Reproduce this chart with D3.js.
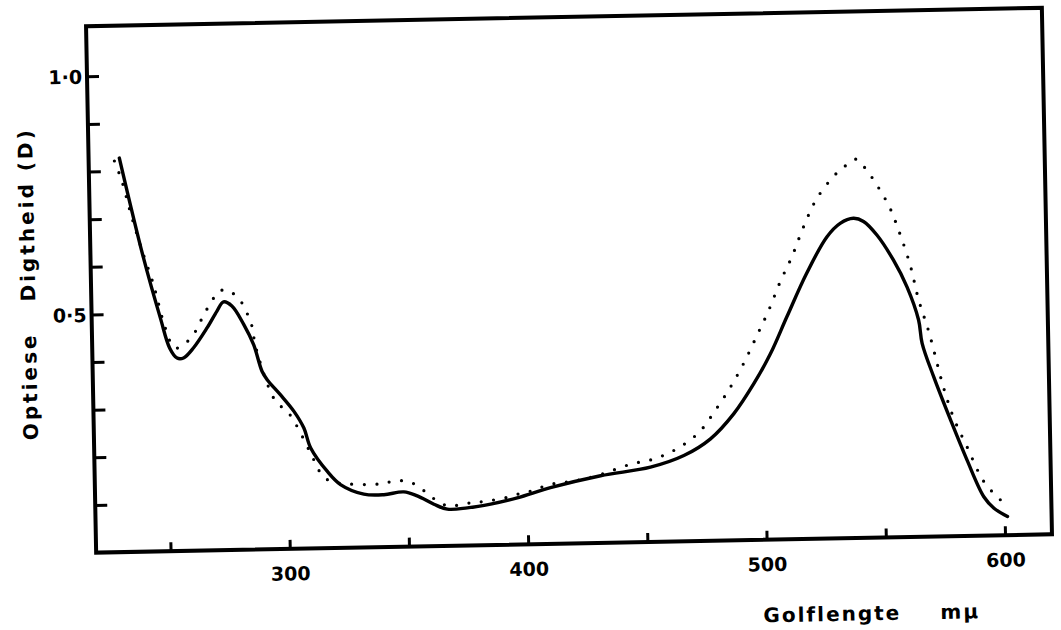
<!DOCTYPE html>
<html>
  <head>
  <title>Optiese Digtheid</title>
  <script src="https://d3js.org/d3.v7.min.js"></script>
  </head>
  <body>
  <svg id="svg" width="1061" height="630"></svg>
  </body>
</html>

<script>
  // wavelength (m\u03bc) and optical density
  const solidWavelength = [231.7, 241.0, 247.6, 251.3, 254.3, 257.0, 261.3, 267.1, 271.4, 274.2,
    277.7, 282.5, 286.5, 289.8, 291.9, 297.3, 302.8, 306.9, 309.6, 316.4,
    321.8, 331.5, 339.9, 348.3, 353.9, 360.8, 366.4, 374.8, 384.6, 395.8,
    409.8, 430.9, 451.9, 466.0, 477.3, 487.3, 495.9, 503.1, 510.3, 518.9,
    527.7, 533.4, 539.0, 543.2, 548.7, 555.4, 560.9, 565.5, 566.8, 571.4,
    578.1, 584.7, 591.5, 595.6, 601.2];
  const solidDensity = [0.827, 0.617, 0.490, 0.426, 0.405, 0.405, 0.426, 0.467, 0.502, 0.521,
    0.512, 0.473, 0.430, 0.374, 0.356, 0.324, 0.289, 0.253, 0.211, 0.161,
    0.133, 0.112, 0.110, 0.115, 0.106, 0.088, 0.077, 0.079, 0.086, 0.098,
    0.118, 0.141, 0.157, 0.180, 0.214, 0.266, 0.328, 0.390, 0.467, 0.557,
    0.633, 0.661, 0.671, 0.664, 0.635, 0.582, 0.525, 0.455, 0.406, 0.335,
    0.244, 0.159, 0.081, 0.057, 0.039];

  const dottedWavelength = [229.6, 232.5, 235.8, 239.7, 245.0, 249.6, 253.4, 257.9, 261.4, 263.9,
    266.2, 269.0, 271.8, 275.7, 279.1, 282.2, 284.2, 285.7, 287.6, 295.2,
    300.7, 311.5, 313.9, 317.7, 325.3, 335.8, 340.7, 346.1, 351.2, 355.6,
    359.5, 362.7, 367.4, 373.4, 378.4, 383.6, 390.2, 397.0, 402.6, 408.2,
    413.8, 419.1, 424.3, 428.8, 433.7, 443.6, 453.4, 463.3, 472.5, 479.6,
    486.1, 491.8, 497.6, 502.7, 507.8, 512.9, 518.0, 523.8, 531.6, 535.9,
    540.6, 544.3, 549.7, 554.4, 557.8, 562.4, 565.7, 569.7, 575.5, 579.5,
    584.8, 591.6, 598.4, 601.2];
  const dottedDensity = [0.821, 0.780, 0.715, 0.645, 0.560, 0.469, 0.426, 0.436, 0.454, 0.476,
    0.499, 0.519, 0.542, 0.546, 0.535, 0.516, 0.494, 0.474, 0.420, 0.311,
    0.285, 0.179, 0.155, 0.140, 0.134, 0.132, 0.135, 0.139, 0.135, 0.121,
    0.105, 0.093, 0.083, 0.088, 0.090, 0.093, 0.098, 0.107, 0.113, 0.123,
    0.128, 0.130, 0.136, 0.140, 0.148, 0.164, 0.174, 0.195, 0.228, 0.274,
    0.322, 0.371, 0.429, 0.481, 0.541, 0.593, 0.655, 0.714, 0.763, 0.781,
    0.795, 0.776, 0.735, 0.691, 0.645, 0.571, 0.497, 0.430, 0.311, 0.247,
    0.187, 0.113, 0.074, 0.060];

  const xTicks = [250, 300, 350, 400, 450, 500, 550, 600];
  const xTickLabels = [300, 400, 500, 600];
  const yTicks = [0.1, 0.2, 0.3, 0.4, 0.5, 0.6, 0.7, 0.8, 0.9, 1.0];
  const yTickLabels = {0.5: "0\u00b75", 1.0: "1\u00b70"};

  const plotLeft = 91, plotTop = 17, plotRight = 1047, plotBottom = 543.5;
  const font = "'DejaVu Sans', sans-serif";

  const svg = d3.select("#svg");
  svg.append("rect").attr("width", 1061).attr("height", 630).attr("fill", "#fff");

  // the scan is slightly tilted, so the whole plot is turned a little
  const g = svg.append("g").attr("transform", "rotate(-1.1, 569, 280)");

  const x = d3.scaleLinear().domain([218.8, 619.7]).range([plotLeft, plotRight]);
  const y = d3.scaleLinear().domain([0, 1.105]).range([plotBottom, plotTop]);

  const xAxis = g.append("g")
    .attr("transform", `translate(0,${plotBottom})`)
    .call(d3.axisBottom(x).tickValues(xTicks).tickSize(-9).tickPadding(18)
      .tickFormat(d => xTickLabels.includes(d) ? d : ""));

  const yAxis = g.append("g")
    .attr("transform", `translate(${plotLeft},0)`)
    .call(d3.axisLeft(y).tickValues(yTicks).tickSize(-12).tickPadding(5)
      .tickFormat(d => yTickLabels[d] || ""));

  [xAxis, yAxis].forEach(a => {
    a.select(".domain").remove();
    a.selectAll(".tick line").attr("stroke", "#000").attr("stroke-width", 3);
    a.selectAll(".tick text")
      .attr("fill", "#000")
      .style("font-family", font)
      .style("font-weight", "bold")
      .style("font-size", "19px");
  });
  yAxis.selectAll(".tick text").attr("dy", "0.36em");

  g.append("rect")
    .attr("x", plotLeft).attr("y", plotTop)
    .attr("width", plotRight - plotLeft).attr("height", plotBottom - plotTop)
    .attr("fill", "none").attr("stroke", "#000").attr("stroke-width", 4);

  const line = d3.line()
    .x(d => x(d[0]))
    .y(d => y(d[1]))
    .curve(d3.curveCatmullRom.alpha(0.5));

  g.append("path")
    .datum(dottedWavelength.map((w, i) => [w, dottedDensity[i]]))
    .attr("d", line)
    .attr("fill", "none")
    .attr("stroke", "#000")
    .attr("stroke-width", 3.2)
    .attr("stroke-linecap", "round")
    .attr("stroke-dasharray", "0,12.5");

  g.append("path")
    .datum(solidWavelength.map((w, i) => [w, solidDensity[i]]))
    .attr("d", line)
    .attr("fill", "none")
    .attr("stroke", "#000")
    .attr("stroke-width", 3.4)
    .attr("stroke-linejoin", "round")
    .attr("stroke-linecap", "round");

  const titles = g.append("g")
    .style("font-family", font)
    .style("font-weight", "bold")
    .style("font-size", "20px")
    .attr("fill", "#000");

  titles.append("text")
    .attr("x", 757).attr("y", 626)
    .style("letter-spacing", "2px")
    .text("Golflengte");
  titles.append("text")
    .attr("x", 934).attr("y", 626)
    .style("letter-spacing", "2px")
    .text("m\u03bc");

  titles.append("text")
    .attr("transform", "translate(35,376) rotate(-90)")
    .attr("text-anchor", "middle")
    .style("letter-spacing", "3px")
    .text("Optiese");
  titles.append("text")
    .attr("transform", "translate(35,204) rotate(-90)")
    .attr("text-anchor", "middle")
    .style("letter-spacing", "3px")
    .text("Digtheid (D)");
</script>

<style>
  body {
    margin: 0;
  }
  svg {
    display: block;
  }
</style>
